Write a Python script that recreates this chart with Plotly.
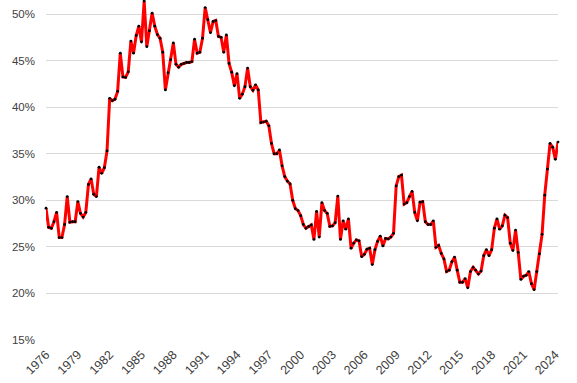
import plotly.graph_objects as go

start_year = 1976
values_pct = [
    29.15, 27.1, 27.0, 27.7, 28.7, 26.0, 26.0, 27.4, 30.4, 27.65,
    27.7, 27.7, 29.86, 28.6, 28.2, 28.7, 31.7, 32.3, 30.65, 30.4,
    33.55, 32.9, 33.5, 35.3, 40.95, 40.7, 40.85, 41.7, 45.8, 43.25,
    43.2, 43.8, 47.1, 45.8, 47.7, 48.7, 47.0, 51.4, 46.5, 48.2,
    50.1, 48.7, 47.8, 47.4, 45.9, 41.85, 43.7, 45.1, 46.9, 44.6,
    44.3, 44.6, 44.7, 44.8, 44.8, 44.9, 47.3, 45.8, 45.9, 47.4,
    50.7, 49.4, 48.0, 49.2, 49.3, 47.6, 47.5, 45.9, 47.75, 44.7,
    43.75, 42.3, 43.6, 40.95, 41.4, 42.2, 44.2, 42.2, 41.8, 42.4,
    41.85, 38.35, 38.4, 38.5, 38.0, 36.1, 35.0, 35.0, 35.4, 33.7,
    32.55, 32.05, 31.75, 30.0, 29.1, 28.9, 28.35, 27.4, 27.0, 27.2,
    27.35, 25.8, 28.8, 26.05, 29.75, 28.9, 28.6, 27.2, 27.25, 27.6,
    30.45, 25.8, 27.8, 26.9, 28.0, 24.85, 25.4, 25.75, 25.65, 23.95,
    24.2, 24.75, 24.85, 23.1, 24.7, 25.6, 26.15, 25.1, 25.9, 25.85,
    26.05, 26.45, 31.55, 32.55, 32.7, 29.6, 29.75, 30.4, 30.95, 28.7,
    27.8, 29.8, 29.85, 27.7, 27.4, 27.4, 27.8, 24.95, 25.15, 24.3,
    23.7, 22.35, 22.5, 23.4, 23.9, 22.5, 21.2, 21.2, 21.6, 20.6,
    22.35, 22.8, 22.5, 22.1, 22.4, 24.05, 24.7, 24.05, 24.7, 27.0,
    28.0, 26.9, 27.25, 28.4, 28.15, 25.4, 24.6, 26.8, 24.4, 21.5,
    21.85, 21.95, 22.35, 21.05, 20.4, 22.35, 24.25, 26.35, 30.55, 33.35,
    36.1, 35.7, 34.4, 36.25,
]
values = [v / 100 for v in values_pct]
x_idx = list(range(len(values)))

tick_years = list(range(1976, 2025, 3))
tick_positions = [(y - start_year) * 4 for y in tick_years]
tick_labels = [str(y) for y in tick_years]

y_ticks = [0.15, 0.20, 0.25, 0.30, 0.35, 0.40, 0.45, 0.50]

fig = go.Figure()
fig.add_trace(go.Scatter(
    x=x_idx, y=values, mode="lines+markers",
    line=dict(color="#ff0000", width=3),
    marker=dict(color="#000000", size=2.8, symbol="circle"),
    cliponaxis=False,
    showlegend=False,
))

fig.update_layout(
    width=577, height=383,
    margin=dict(l=46, r=19, t=0, b=43),
    paper_bgcolor="white", plot_bgcolor="white",
    font=dict(family="Liberation Sans", size=11.5, color="#404040"),
    xaxis=dict(
        range=[0, len(values) - 1],
        tickmode="array", tickvals=tick_positions, ticktext=tick_labels,
        tickangle=-45, showgrid=False, zeroline=False,
        showline=False, ticks="", ticklabelstandoff=4,
        tickfont=dict(size=12.5),
    ),
    yaxis=dict(
        range=[0.15, 0.5151],
        tickmode="array", tickvals=y_ticks, tickformat=".0%",
        showgrid=True, gridcolor="#d9d9d9", gridwidth=1,
        zeroline=False, showline=False, ticks="",
        ticklabelstandoff=10,
    ),
)

fig.write_html("out.html")
